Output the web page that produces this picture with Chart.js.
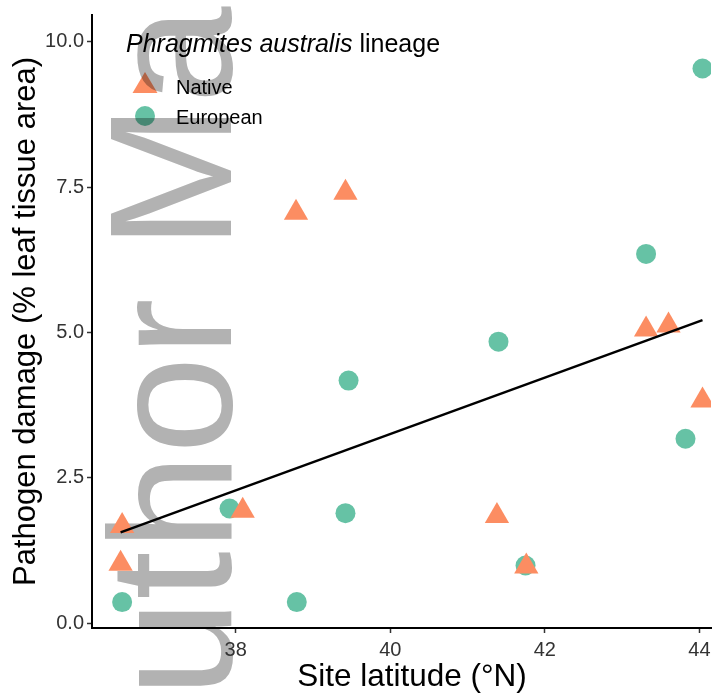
<!DOCTYPE html>
<html>
<head>
<meta charset="utf-8">
<script src="https://cdn.jsdelivr.net/npm/chart.js@4.4.1/dist/chart.umd.min.js"></script>
<style>
  body { margin: 0; background: #fff; }
  #wrap { width: 725px; height: 695px; position: relative; }
</style>
</head>
<body>
<div id="wrap"><canvas id="damageChart"></canvas></div>
<script>
// Native lineage sites (triangles)
const nativeLat = [36.51, 36.53, 38.09, 38.78, 39.42, 41.38, 41.76, 43.31, 43.60, 44.04];
const nativeDamage = [1.02, 1.67, 1.93, 7.06, 7.40, 1.84, 0.97, 5.05, 5.12, 3.83];

// European lineage sites (circles)
const euroLat = [36.53, 37.92, 38.79, 39.42, 39.46, 41.40, 41.75, 43.31, 43.82, 44.04];
const euroDamage = [0.36, 1.97, 0.36, 1.89, 4.17, 4.84, 0.99, 6.35, 3.17, 9.54];

// fitted line end points
const fitLat = [36.51, 44.04];
const fitDamage = [1.56, 5.21];

const xTicks = [38, 40, 42, 44];
const yTicks = [0, 2.5, 5, 7.5, 10];

const orange = "#FC8D62";
const teal = "#66C2A5";
const font = "'Liberation Sans', Arial, sans-serif";

function toPoints(xs, ys) {
	return xs.map((x, i) => ({ x: x, y: ys[i] }));
}

// grey watermark, drawn first so axes and marks sit on top
const watermark = {
	id: "watermark",
	beforeDraw(chart) {
		const ctx = chart.ctx;
		ctx.save();
		ctx.translate(231, 697);
		ctx.rotate(-Math.PI / 2);
		ctx.fillStyle = "#b2b2b2";
		ctx.font = "175px " + font;
		ctx.textBaseline = "alphabetic";
		ctx.textAlign = "left";
		ctx.fillText("uthor Ma", 0, 0);
		ctx.restore();
	}
};

// legend with the italic species name, plus the x title
const legendBox = {
	id: "legendBox",
	afterDraw(chart) {
		const ctx = chart.ctx;
		ctx.save();
		ctx.fillStyle = "#000";
		ctx.textBaseline = "alphabetic";
		ctx.font = "italic 25px " + font;
		const part = "Phragmites australis";
		ctx.fillText(part, 126, 52);
		const w = ctx.measureText(part).width;
		ctx.font = "25px " + font;
		ctx.fillText(" lineage", 126 + w, 52);

		ctx.globalCompositeOperation = "multiply";
		ctx.fillStyle = orange;
		ctx.beginPath();
		ctx.moveTo(145, 72);
		ctx.lineTo(157.5, 93);
		ctx.lineTo(132.5, 93);
		ctx.closePath();
		ctx.fill();
		ctx.fillStyle = teal;
		ctx.beginPath();
		ctx.arc(145, 116, 10, 0, Math.PI * 2);
		ctx.fill();
		ctx.globalCompositeOperation = "source-over";

		ctx.fillStyle = "#000";
		ctx.font = "20px " + font;
		ctx.textBaseline = "middle";
		ctx.fillText("Native", 176, 88);
		ctx.fillText("European", 176, 118);

		ctx.font = "31.5px " + font;
		ctx.textAlign = "center";
		ctx.textBaseline = "alphabetic";
		ctx.fillText("Site latitude (°N)", 412, 686);
		ctx.restore();
	}
};

const data = {
	datasets: [
		{
			type: "line",
			label: "fit",
			data: toPoints(fitLat, fitDamage),
			borderColor: "#000",
			borderWidth: 2.5,
			pointRadius: 0,
			fill: false
		},
		{
			type: "scatter",
			label: "Native",
			data: toPoints(nativeLat, nativeDamage),
			pointStyle: "triangle",
			pointRadius: 14,
			backgroundColor: orange,
			borderWidth: 0
		},
		{
			type: "scatter",
			label: "European",
			data: toPoints(euroLat, euroDamage),
			pointStyle: "circle",
			pointRadius: 10,
			backgroundColor: teal,
			borderWidth: 0
		}
	]
};

const config = {
	type: "scatter",
	data: data,
	plugins: [watermark, legendBox],
	options: {
		responsive: true,
		maintainAspectRatio: false,
		animation: false,
		layout: { padding: { top: 13, right: 13, left: 0, bottom: 0 } },
		plugins: {
			legend: { display: false },
			tooltip: { enabled: false }
		},
		scales: {
			x: {
				type: "linear",
				min: 36.14,
				max: 44.15,
				afterBuildTicks: s => { s.ticks = xTicks.map(v => ({ value: v })); },
				afterFit: s => { s.height = 67; },
				grid: { drawOnChartArea: false, drawTicks: true, tickLength: 5, tickWidth: 1.5, tickColor: "#333" },
				border: { display: true, color: "#000", width: 2 },
				ticks: { font: { family: font, size: 20 }, color: "#333", padding: 5 }
			},
			y: {
				type: "linear",
				min: -0.086,
				max: 10.46,
				afterBuildTicks: s => { s.ticks = yTicks.map(v => ({ value: v })); },
				afterFit: s => { s.width = 92; },
				grid: { drawOnChartArea: false, drawTicks: true, tickLength: 5, tickWidth: 1.5, tickColor: "#333" },
				border: { display: true, color: "#000", width: 2 },
				ticks: {
					font: { family: font, size: 20 },
					color: "#333",
					padding: 3,
					callback: v => v.toFixed(1)
				},
				title: {
					display: true,
					text: "Pathogen damage (% leaf tissue area)",
					font: { family: font, size: 31 },
					color: "#000",
					padding: { top: 8, bottom: 0 }
				}
			}
		}
	}
};

const damageChart = new Chart(document.getElementById("damageChart"), config);
</script>
</body>
</html>
